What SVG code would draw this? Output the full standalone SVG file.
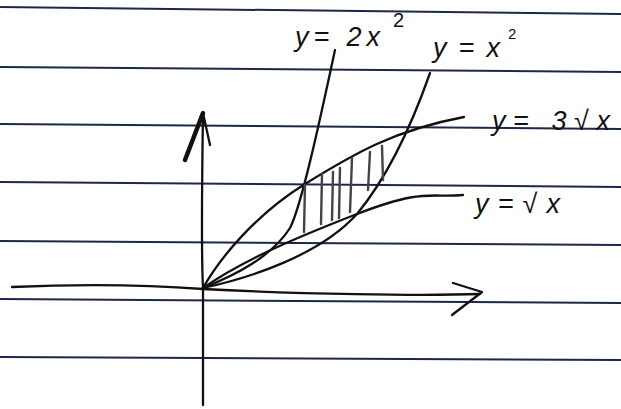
<svg xmlns="http://www.w3.org/2000/svg" width="621" height="409" viewBox="0 0 621 409">
<style>
.rule{stroke:#1c2848;stroke-width:2;fill:none}
.ink{stroke:#111;stroke-width:2.3;fill:none;stroke-linecap:round;stroke-linejoin:round}
.hatch{stroke:#444;stroke-width:2.4;fill:none;stroke-linecap:round}
.lbl{font-family:"Liberation Sans",Arial,sans-serif;font-size:27px;fill:#111;font-style:italic}
.sup{font-family:"Liberation Sans",Arial,sans-serif;font-size:20px;fill:#111}
</style>
<rect width="621" height="409" fill="#ffffff"/>
<g id="paper-lines">
<path class="rule" d="M0,7 L621,14"/>
<path class="rule" d="M0,67 L621,72"/>
<path class="rule" d="M0,124 L621,129"/>
<path class="rule" d="M0,182 L621,187"/>
<path class="rule" d="M0,241 L621,245"/>
<path class="rule" d="M0,299 L621,303"/>
<path class="rule" d="M0,357 L621,360"/>
</g>
<g id="axes">
<path class="ink" d="M12,287 C80,284 150,285 203,289 C300,294 420,296 480,294"/>
<path class="ink" d="M453,283 L482,292 L452,315"/>
<path class="ink" d="M203,113 C202,180 201,250 203,288 L203,405"/>
<path class="ink" d="M185,160 L203,113" style="stroke-width:4.5"/>
<path class="ink" d="M203,113 L210,145"/>
</g>
<g id="curves">
<path id="c-3sqrtx" class="ink" d="M203,288 C220,258 255,215 305,184 S395,130 464,117"/>
<path id="c-2x2" class="ink" d="M203,288 C238,274 272,256 290,228 C302,205 322,110 335,50"/>
<path id="c-sqrtx" class="ink" d="M203,288 C240,262 290,240 357,214 S430,198 463,195"/>
<path id="c-x2" class="ink" d="M203,288 C250,278 320,255 357,214 C385,180 410,130 430,73"/>
</g>
<g id="shading">
<path class="hatch" d="M305,185 L304,232"/>
<path class="hatch" d="M322,174 L321,224"/>
<path class="hatch" d="M333,172 L332,220"/>
<path class="hatch" d="M340,168 L339,218"/>
<path class="hatch" d="M352,158 L350,212"/>
<path class="hatch" d="M370,152 L368,190"/>
<path class="hatch" d="M382,146 L383,180"/>
</g>
<g id="labels">
<text class="lbl" x="295" y="46" textLength="85" lengthAdjust="spacing">y= 2x</text>
<text class="sup" x="393" y="27">2</text>
<text class="lbl" x="433" y="57" textLength="67" lengthAdjust="spacing">y=x</text>
<text class="sup" x="508" y="39" style="font-size:15px">2</text>
<text class="lbl" x="492" y="130" textLength="118" lengthAdjust="spacing">y= 3√x</text>
<text class="lbl" x="475" y="213" textLength="85" lengthAdjust="spacing">y=√x</text>
</g>
</svg>
